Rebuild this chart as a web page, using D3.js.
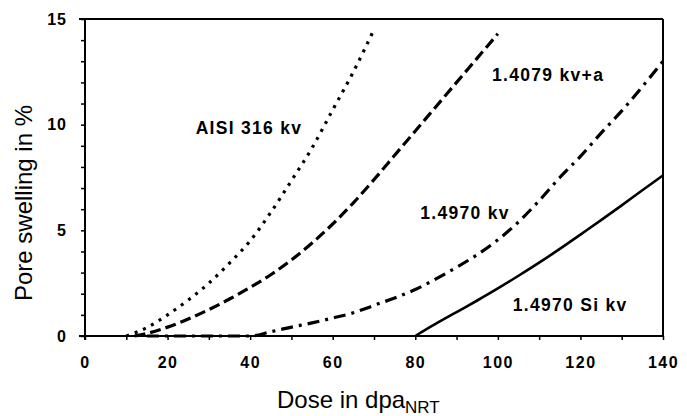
<!DOCTYPE html>
<html><head><meta charset="utf-8">
<script src="https://cdn.jsdelivr.net/npm/d3@7"></script>
<style>
body{margin:0;background:#fff;}
svg text{font-family:"Liberation Sans",Arial,sans-serif;fill:#000;}
</style></head>
<body><svg id="chart" width="687" height="416"></svg>
<script>
// Data
const dose_aisi = [10, 15, 20, 25, 30, 35, 40, 45, 50, 55, 60, 65, 70];
const swell_aisi = [0, 0.4, 1.0, 1.7, 2.5, 3.45, 4.5, 5.85, 7.35, 8.9, 10.7, 12.5, 14.5];

const dose_14079 = [12, 15, 20, 25, 30, 35, 40, 45, 50, 55, 60, 65, 70, 75, 80, 85, 90, 95, 100];
const swell_14079 = [0, 0.12, 0.42, 0.8, 1.25, 1.75, 2.3, 2.9, 3.6, 4.4, 5.3, 6.3, 7.4, 8.55, 9.7, 10.85, 12.0, 13.15, 14.3];

const dose_14970 = [15, 20, 30, 40, 45, 50, 55, 60, 65, 70, 75, 80, 85, 90, 95, 100, 105, 110, 115, 120, 125, 130, 135, 140];
const swell_14970 = [0, 0, 0, 0, 0.2, 0.42, 0.62, 0.85, 1.1, 1.45, 1.8, 2.2, 2.7, 3.25, 3.85, 4.55, 5.4, 6.4, 7.5, 8.5, 9.6, 10.65, 11.8, 13.0];

const dose_si = [80, 85, 90, 95, 100, 105, 110, 115, 120, 125, 130, 135, 140];
const swell_si = [0, 0.58, 1.13, 1.68, 2.25, 2.85, 3.47, 4.12, 4.8, 5.48, 6.18, 6.9, 7.6];

const xTicks = [0, 10, 20, 30, 40, 50, 60, 70, 80, 90, 100, 110, 120, 130, 140];
const xTickLabels = [0, 20, 40, 60, 80, 100, 120, 140];
const yTicks = d3.range(0, 16, 1);
const yTickLabels = [0, 5, 10, 15];

const curveLabels = ["AISI 316 kv", "1.4079 kv+a", "1.4970 kv", "1.4970 Si kv"];
const xTitle = "Dose in dpa";
const xTitleSub = "NRT";
const yTitle = "Pore swelling in %";

const svg = d3.select("#chart");
const mLeft = 85, mRight = 663, mTop = 19, mBottom = 336;
const x = d3.scaleLinear().domain([0, 140]).range([mLeft, mRight]);
const y = d3.scaleLinear().domain([0, 15]).range([mBottom, mTop]);

// frame: top and right border
svg.append("line").attr("x1", mLeft - 6).attr("x2", mRight).attr("y1", mTop).attr("y2", mTop)
  .attr("stroke", "#000").attr("stroke-width", 2);
svg.append("line").attr("x1", mRight).attr("x2", mRight).attr("y1", mTop).attr("y2", mBottom)
  .attr("stroke", "#000").attr("stroke-width", 2);

// axes
const xAxis = d3.axisBottom(x).tickValues(xTicks).tickSize(4)
  .tickFormat(d => xTickLabels.includes(d) ? d : "");
const gx = svg.append("g").attr("transform", `translate(0,${mBottom})`).call(xAxis);
gx.select(".domain").attr("stroke-width", 2).attr("d", `M${mLeft - 6},0H${mRight}`);
gx.selectAll(".tick line").attr("stroke-width", 1.5);
gx.selectAll(".tick text").attr("dy", 0).attr("y", 32)
  .style("font-size", "16px").style("font-weight", "bold").style("letter-spacing", "1.5px");

const yAxis = d3.axisLeft(y).tickValues(yTicks).tickSize(4)
  .tickFormat(d => yTickLabels.includes(d) ? d : "");
const gy = svg.append("g").attr("transform", `translate(${mLeft},0)`).call(yAxis);
gy.select(".domain").attr("stroke-width", 2).attr("d", `M0,${mBottom + 4}V${mTop}`);
gy.selectAll(".tick line").attr("stroke-width", 1.5);
gy.selectAll(".tick text").attr("x", -18)
  .style("font-size", "16px").style("font-weight", "bold").style("letter-spacing", "1px");

// curves
const series = [
  {dx: dose_aisi, sy: swell_aisi, dash: "3,6", w: 3.2},
  {dx: dose_14079, sy: swell_14079, dash: "11,5", w: 3.2},
  {dx: dose_14970, sy: swell_14970, dash: "12,6,3,6", w: 3.2},
  {dx: dose_si, sy: swell_si, dash: null, w: 2.6}
];
const line = d3.line().x(d => x(d[0])).y(d => y(d[1])).curve(d3.curveMonotoneX);
series.forEach(s => {
  const pts = s.dx.map((d, i) => [d, s.sy[i]]);
  const p = svg.append("path").attr("d", line(pts)).attr("fill", "none")
    .attr("stroke", "#000").attr("stroke-width", s.w);
  if (s.dash) p.attr("stroke-dasharray", s.dash);
});

// curve labels
const labelPos = [[26.8, 9.55], [98.6, 12.05], [81.2, 5.55], [103.6, 1.2]];
curveLabels.forEach((t, i) => {
  svg.append("text").attr("x", x(labelPos[i][0])).attr("y", y(labelPos[i][1]))
    .style("font-size", "17.5px").style("font-weight", "bold").style("letter-spacing", "1.3px")
    .text(t);
});

// axis titles
const xt = svg.append("text").attr("x", 277).attr("y", 408).style("font-size", "24px");
xt.append("tspan").text(xTitle);
xt.append("tspan").attr("dy", 5).style("font-size", "17px").text(xTitleSub);

svg.append("text").attr("transform", "translate(32,203) rotate(-90)")
  .attr("text-anchor", "middle").style("font-size", "24px").text(yTitle);
</script></body></html>
